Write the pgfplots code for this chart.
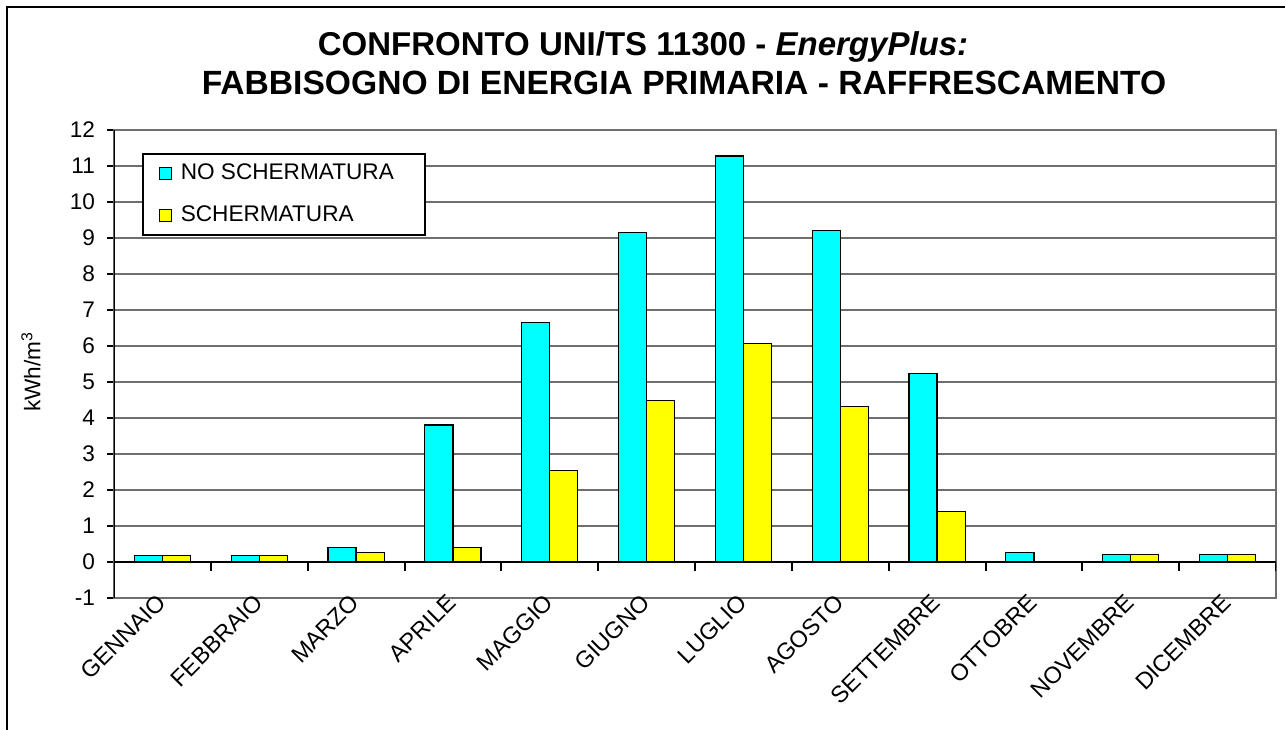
\documentclass[border=0pt]{standalone}
\usepackage{pgfplots}
\pgfplotsset{compat=1.18}
\usepackage{fontspec}
\setmainfont{Liberation Sans}
\definecolor{cy}{HTML}{00FFFF}
\definecolor{ye}{HTML}{FFFF00}
\definecolor{gridc}{HTML}{6E6E6E}
\begin{document}
\begin{tikzpicture}
\useasboundingbox (0pt,0pt) rectangle (642.5pt,364.5pt);
\draw[line width=1pt] (3.5pt,-5pt) -- (3.5pt,361pt) -- (650pt,361pt);
\node[font=\fontsize{16.5}{19}\selectfont\bfseries] at (321.5pt,341pt) {CONFRONTO UNI/TS 11300 - \textit{EnergyPlus:}};
\node[font=\fontsize{16.8}{19}\selectfont\bfseries] at (342pt,323pt) {FABBISOGNO DI ENERGIA PRIMARIA - RAFFRESCAMENTO};
\begin{axis}[at={(57pt,65.65pt)}, anchor=south west, scale only axis,
  width=581pt, height=233.85pt,
  ybar=0pt, bar width=0.29,
  xmin=-0.5, xmax=11.5, ymin=-1, ymax=12,
  xtick={0,...,11},
  xticklabels={GENNAIO,FEBBRAIO,MARZO,APRILE,MAGGIO,GIUGNO,LUGLIO,AGOSTO,SETTEMBRE,OTTOBRE,NOVEMBRE,DICEMBRE},
  ytick={-1,0,...,12},
  x tick style={draw=none},
  ytick pos=left, tick align=outside, major tick length=3.5pt,
  y tick style={black, line width=0.8pt},
  ymajorgrids, grid style={gridc, line width=0.8pt},
  axis line style={gridc, line width=0.8pt},
  tick label style={font=\fontsize{11.3}{13}\selectfont},
  /pgf/number format/assume math mode=true,
  xticklabel style={xshift=-3.4pt, yshift=7.6pt, rotate=45, anchor=north east, inner sep=1pt, font=\fontsize{11.7}{13}\selectfont},
  yticklabel style={xshift=-2.5pt},
  ylabel={kWh/m\textsuperscript{3}},
  ylabel style={at={(axis description cs:-0.0714,0.483)}, anchor=center, font=\fontsize{11.3}{13}\selectfont},
  legend cell align=left,
  legend style={at={(0.0241,0.951)}, anchor=north west, draw=black, line width=0.8pt, fill=white,
    font=\fontsize{11.3}{13}\selectfont, row sep=7.5pt, column sep=2.5pt, inner xsep=8pt, inner ysep=3.25pt},
  legend image code/.code={\draw[#1, line width=0.5pt] (0pt,-3pt) rectangle (6pt,3pt);},
]
\addplot[fill=cy, draw=black, line width=0.6pt] coordinates {
(0,0.17) (1,0.17) (2,0.40) (3,3.80) (4,6.65) (5,9.16) (6,11.28) (7,9.20) (8,5.24) (9,0.26) (10,0.21) (11,0.21)};
\addlegendentry{NO SCHERMATURA\rule{5.5pt}{0pt}}
\addplot[fill=ye, draw=black, line width=0.6pt] coordinates {
(0,0.17) (1,0.17) (2,0.26) (3,0.40) (4,2.53) (5,4.48) (6,6.07) (7,4.32) (8,1.39) (9,-0.03) (10,0.21) (11,0.21)};
\addlegendentry{SCHERMATURA}
\draw[black, line width=1.2pt] (rel axis cs:0,0) -- (rel axis cs:0,1);
\draw[black, line width=1.2pt] (axis cs:-0.5,0) -- (axis cs:11.5,0);
\pgfplotsinvokeforeach{0.5,1.5,...,11.5}{\draw[black,line width=1pt] (axis cs:#1,0) -- ([yshift=-4.5pt]axis cs:#1,0);}
\end{axis}
\end{tikzpicture}
\end{document}
